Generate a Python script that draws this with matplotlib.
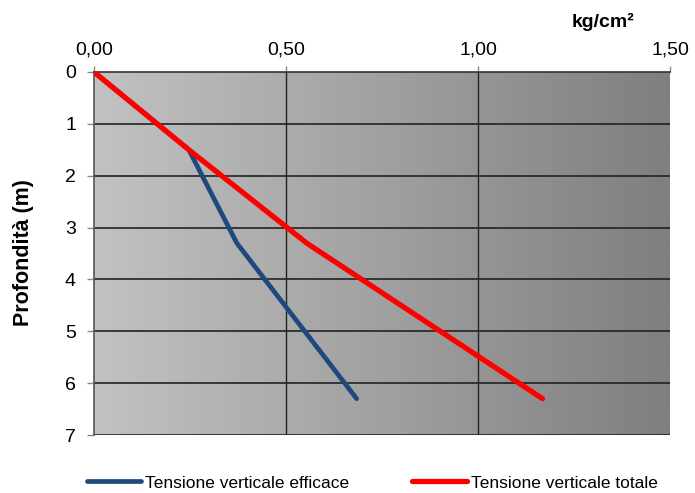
import numpy as np
import matplotlib
matplotlib.use("Agg")
import matplotlib.pyplot as plt
from matplotlib.colors import LinearSegmentedColormap

plt.rcParams['font.family'] = ['Liberation Sans', 'DejaVu Sans']

depth_eff = [0.0, 1.5, 3.3, 6.3]
sigma_eff = [0.0, 0.247, 0.372, 0.684]
depth_tot = [0.0, 1.5, 3.3, 6.3]
sigma_tot = [0.0, 0.247, 0.554, 1.168]
x_ticks = [0.0, 0.5, 1.0, 1.5]
x_labels = ["0,00", "0,50", "1,00", "1,50"]
y_ticks = [0, 1, 2, 3, 4, 5, 6, 7]

fig = plt.figure(figsize=(6.95, 4.93), dpi=100)
ax = fig.add_axes([94/695, 1-435/493, (670-94)/695, (435-72)/493])

grad = np.linspace(0, 1, 256).reshape(1, -1)
cmap = LinearSegmentedColormap.from_list("g", ["#c2c2c2", "#7f7f7f"])
ax.imshow(grad, extent=[0, 1.5, 7, 0], aspect='auto', cmap=cmap, zorder=0)

ax.set_xlim(0, 1.5)
ax.set_ylim(7, 0)
for y in y_ticks[1:]:
    ax.axhline(y, color='#222222', lw=1.2, zorder=1)
for x in [0.5, 1.0]:
    ax.axvline(x, color='#222222', lw=1.0, zorder=1)

ax.plot(sigma_eff, depth_eff, color='#1f497d', lw=3.4, solid_capstyle='round', label='Tensione verticale efficace', zorder=3)
ax.plot(sigma_tot, depth_tot, color='#ff0000', lw=3.8, solid_capstyle='round', label='Tensione verticale totale', zorder=4)

ax.xaxis.tick_top()
ax.set_xticks(x_ticks)
ax.set_xticklabels(x_labels, fontsize=14)
ax.set_yticks(y_ticks)
ax.set_yticklabels([str(v) for v in y_ticks], fontsize=14)
ax.tick_params(axis='x', direction='out', length=4, width=1, pad=6, color='#888888')
ax.tick_params(axis='y', direction='out', length=5, width=1, pad=8, color='#888888')
for s in ['right', 'bottom']:
    ax.spines[s].set_visible(False)
ax.spines['left'].set_color('#555555')
ax.spines['top'].set_color('#333333')
ax.spines['left'].set_linewidth(1.2)
ax.spines['top'].set_linewidth(1.2)

fig.text(24/695, 1-253/493, 'Profondità (m)', fontsize=15.5, fontweight='bold',
         rotation=90, ha='center', va='center')
fig.text(572/695, 1-22/493, 'kg/cm²', fontsize=14, fontweight='bold', ha='left', va='center')

fig.legend(loc='center', bbox_to_anchor=(372/695, 1-483/493), ncol=2, frameon=False,
           fontsize=12.5, handlelength=3.15, handletextpad=0.23, columnspacing=3.6,
           borderpad=0, borderaxespad=0)

fig.savefig('out.png', dpi=100)
